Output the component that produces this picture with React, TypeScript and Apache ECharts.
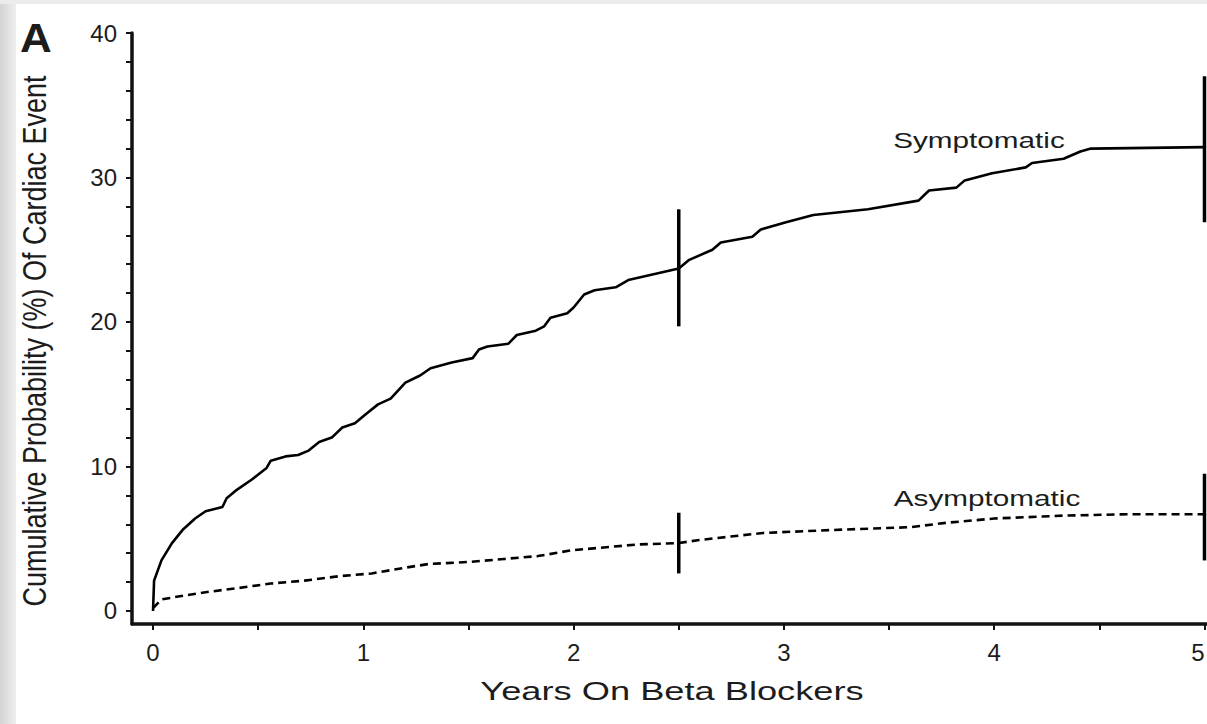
import React, { useEffect, useRef } from "react";
import * as echarts from "echarts";

// ---- data ----
const symT = [0, 0.005, 0.04, 0.09, 0.14, 0.2, 0.25, 0.33, 0.35, 0.4, 0.47, 0.54, 0.56, 0.63, 0.69, 0.74, 0.79, 0.85, 0.9, 0.96, 1.01, 1.07, 1.13, 1.2, 1.27, 1.32, 1.42, 1.52, 1.55, 1.59, 1.69, 1.73, 1.82, 1.86, 1.89, 1.97, 2.0, 2.05, 2.1, 2.2, 2.26, 2.5, 2.55, 2.66, 2.7, 2.85, 2.89, 3.01, 3.14, 3.4, 3.64, 3.69, 3.82, 3.86, 3.99, 4.15, 4.18, 4.33, 4.41, 4.46, 5.0];
const symV = [0, 2.1, 3.5, 4.7, 5.6, 6.4, 6.9, 7.2, 7.8, 8.4, 9.1, 9.9, 10.4, 10.7, 10.8, 11.1, 11.7, 12.0, 12.7, 13.0, 13.6, 14.3, 14.7, 15.8, 16.3, 16.8, 17.2, 17.5, 18.1, 18.3, 18.5, 19.1, 19.4, 19.7, 20.3, 20.6, 21.0, 21.9, 22.2, 22.4, 22.9, 23.7, 24.3, 25.0, 25.5, 25.9, 26.4, 26.9, 27.4, 27.8, 28.4, 29.1, 29.3, 29.8, 30.3, 30.7, 31.0, 31.3, 31.8, 32.0, 32.1];

const asymT = [0, 0.04, 0.12, 0.25, 0.41, 0.56, 0.72, 0.88, 1.04, 1.2, 1.31, 1.51, 1.67, 1.83, 1.99, 2.3, 2.5, 2.59, 2.9, 3.22, 3.6, 3.77, 4.0, 4.33, 4.65, 5.0];
const asymV = [0.2, 0.8, 1.0, 1.3, 1.6, 1.9, 2.1, 2.4, 2.6, 3.0, 3.25, 3.4, 3.6, 3.8, 4.2, 4.6, 4.7, 4.9, 5.4, 5.6, 5.8, 6.1, 6.4, 6.6, 6.7, 6.7];

const barT = [2.5, 5];
const symLo = [19.7, 26.9];
const symHi = [27.8, 37.0];
const asymLo = [2.6, 3.5];
const asymHi = [6.8, 9.5];

const xLabels = [0, 1, 2, 3, 4, 5];
const xTicks = [0, 0.5, 1, 1.5, 2, 2.5, 3, 3.5, 4, 4.5, 5];
const yLabels = [0, 10, 20, 30, 40];
const yTicks = [0, 2, 4, 6, 8, 10, 12, 14, 16, 18, 20, 22, 24, 26, 28, 30, 32, 34, 36, 38, 40];

const FONT = '"Liberation Sans", Arial, Helvetica, sans-serif';

export default function App() {
  const ref = useRef<HTMLDivElement>(null);

  useEffect(() => {
    if (!ref.current) return;
    const chart = echarts.init(ref.current, undefined, { renderer: "svg" });

    const symData = symT.map((t, i) => [t, symV[i]]);
    const asymData = asymT.map((t, i) => [t, asymV[i]]);
    const barData = [
      ...barT.map((t, i) => [t, symLo[i], symHi[i]]),
      ...barT.map((t, i) => [t, asymLo[i], asymHi[i]]),
    ];

    const txt = (extra: any, text: string, font: string) => ({
      type: "text",
      ...extra,
      silent: true,
      style: {
        text,
        font,
        fill: "#1c1c1c",
        align: "center",
        verticalAlign: "middle",
        textAlign: "center",
        textVerticalAlign: "middle",
      },
    });

    chart.setOption({
      animation: false,
      backgroundColor: "#ffffff",
      grid: { left: 132, right: 25, top: 33, bottom: 100, containLabel: false, outerBoundsMode: "none" },
      xAxis: {
        type: "value",
        min: -0.1,
        max: 5.05,
        splitLine: { show: false },
        axisLine: { show: true, onZero: false, lineStyle: { color: "#111", width: 3.5 } },
        axisTick: { show: true, length: 6, customValues: xTicks, lineStyle: { color: "#111", width: 2 } },
        axisLabel: {
          customValues: xLabels,
          margin: 16,
          fontSize: 24,
          fontFamily: FONT,
          color: "#1c1c1c",
          alignMaxLabel: "right",
        },
      },
      yAxis: {
        type: "value",
        min: -0.9,
        max: 40,
        splitLine: { show: false },
        axisLine: { show: true, onZero: false, lineStyle: { color: "#111", width: 3.5 } },
        axisTick: { show: true, length: 6, customValues: yTicks, lineStyle: { color: "#111", width: 2 } },
        axisLabel: { customValues: yLabels, margin: 15, fontSize: 24, fontFamily: FONT, color: "#1c1c1c" },
      },
      series: [
        {
          type: "line",
          name: "Symptomatic",
          data: symData,
          showSymbol: false,
          symbol: "none",
          lineStyle: { color: "#000", width: 2.6, type: "solid" },
          z: 3,
        },
        {
          type: "line",
          name: "Asymptomatic",
          data: asymData,
          showSymbol: false,
          symbol: "none",
          lineStyle: { color: "#000", width: 2.6, type: [8, 5] },
          z: 3,
        },
        {
          type: "custom",
          name: "bars",
          data: barData,
          clip: false,
          z: 4,
          renderItem: (params: any, api: any) => {
            const x = api.value(0);
            const p1 = api.coord([x, api.value(1)]);
            const p2 = api.coord([x, api.value(2)]);
            return {
              type: "line",
              shape: { x1: p1[0], y1: p1[1], x2: p2[0], y2: p2[1] },
              style: { stroke: "#000", lineWidth: 3.5 },
            };
          },
        },
      ],
      graphic: [
        {
          type: "rect",
          silent: true,
          shape: { x: 0, y: 0, width: 16, height: 724 },
          style: {
            fill: new echarts.graphic.LinearGradient(0, 0, 1, 0, [
              { offset: 0, color: "#d4d4d4" },
              { offset: 1, color: "#eeeeee" },
            ]),
          },
        },
        {
          type: "rect",
          silent: true,
          shape: { x: 0, y: 0, width: 1240, height: 4 },
          style: { fill: "#ececec" },
        },
        txt({ x: 36, y: 38, scaleX: 1.1 }, "A", `bold 40px ${FONT}`),
        txt({ x: 35, y: 341, rotation: Math.PI / 2, scaleY: 1.2 }, "Cumulative Probability (%) Of Cardiac Event", `27px ${FONT}`),
        txt({ x: 672, y: 692, scaleX: 1.45 }, "Years On Beta Blockers", `25px ${FONT}`),
        txt({ x: 979, y: 140, scaleX: 1.35 }, "Symptomatic", `22px ${FONT}`),
        txt({ x: 987, y: 498, scaleX: 1.35 }, "Asymptomatic", `22px ${FONT}`),
      ],
    });

    return () => chart.dispose();
  }, []);

  return (
    <div style={{ position: "fixed", left: 0, top: 0, width: 1207, height: 724, overflow: "hidden", background: "#fff" }}>
      <div ref={ref} style={{ width: 1240, height: 724 }} />
    </div>
  );
}
